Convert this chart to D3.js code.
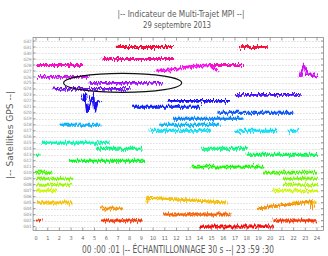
<!DOCTYPE html>
<html><head><meta charset="utf-8">
<script src="https://cdnjs.cloudflare.com/ajax/libs/d3/7.8.5/d3.min.js"></script>
<style>
html,body{margin:0;padding:0;background:#fff;}
svg{display:block;}
</style></head>
<body>
<svg id="c" width="328" height="256"></svg>
<script>
// ---- data ----
const titleLines = ["|-- Indicateur de Multi-Trajet MPI --|", "29 septembre 2013"];
const yTitle = "|-- Satellites GPS --|";
const xTitle = "00 :00 :01 |-- ÉCHANTILLONNAGE  30 s --| 23 :59 :30";
const hourTicks = [0,1,2,3,4,5,6,7,8,9,10,11,12,13,14,15,16,17,18,19,20,21,22,23,24];
const satellites = ["G32","G31","G30","G29","G28","G27","G26","G25","G24","G23","G22","G21","G20","G19","G18","G17",
                    "G16","G15","G14","G13","G12","G11","G10","G09","G08","G07","G06","G05","G04","G03","G02","G01"];
const satNumbers = [32,31,30,29,28,27,26,25,24,23,22,21,20,19,18,17,16,15,14,13,12,11,10,9,8,7,6,5,4,3,2,1];
// visible passes: satellite, start hour, end hour
const passSat   = ["G31","G31","G29","G28","G28","G27","G26","G26","G25","G24","G23","G22","G22","G21","G20","G19","G18","G18","G17","G17","G17",
                   "G15","G14","G14","G13","G13","G12","G11","G10","G10","G09","G09","G08","G08","G07","G07",
                   "G05","G05","G05","G04","G04","G03","G02","G02","G02","G01"];
const passStart = [6.9,17.4,5.7,0.1,14.8,10.3,0.1,22.6,4.5,1.5,17.0,4.0,11.3,8.3,15.5,11.7,2.1,10.6,9.7,17.0,21.5,
                   0.5,5.2,14.2,0.0,18.0,2.9,13.3,0.0,19.4,0.0,21.1,0.0,21.1,0.0,20.2,
                   0.0,9.5,21.9,5.5,18.9,10.9,0.1,5.7,20.2,14.0];
const passEnd   = [11.7,19.8,11.7,4.0,17.6,15.5,4.5,24.0,10.8,8.0,22.6,5.4,16.4,14.0,21.9,17.7,5.5,15.7,14.9,20.6,22.4,
                   6.3,9.1,18.0,0.3,24.0,9.3,19.4,1.4,24.0,3.1,24.0,3.0,24.0,1.7,24.0,
                   3.1,16.3,24.0,7.4,23.7,16.6,0.5,9.1,24.0,20.2];
// strong bursts: satellite, hour, offset in rows (negative = up)
const burstSat  = ["G22","G22","G22","G22","G22","G22","G26","G26","G26","G05","G04","G27"];
const burstHour = [4.2,4.35,4.6,4.9,5.05,5.2,22.75,22.9,23.1,9.6,23.5,14.8];
const burstOff  = [-1.2,1.8,0.4,-0.9,1.9,0.3,-1.5,-2.0,-0.6,-0.8,-1.2,-1.0];
const ellipseCenter = [7.4, "G25"];

// ---- chart ----
const svg = d3.select("#c");
const W = 328, H = 256;
const x = d3.scaleLinear().domain([0,24]).range([36,317]);
const y = d3.scalePoint().domain(satellites).range([41,226.5]);
const step = y.step();
const hueOf = d3.scaleLinear().domain([1,32]).range([0,360]);
const colorOf = s => d3.hsl(hueOf(satNumbers[satellites.indexOf(s)]) % 360, 0.92, 0.5).formatHex();

const defs = svg.append("defs");
function makeFilter(id, seed, scale){
  const f = defs.append("filter").attr("id",id).attr("filterUnits","userSpaceOnUse")
    .attr("x",0).attr("y",0).attr("width",W).attr("height",H);
  f.append("feTurbulence").attr("type","fractalNoise").attr("baseFrequency","0.75 0.05")
    .attr("numOctaves",2).attr("seed",seed).attr("result","n");
  f.append("feDisplacementMap").attr("in","SourceGraphic").attr("in2","n").attr("scale",scale)
    .attr("xChannelSelector","R").attr("yChannelSelector","G");
}
makeFilter("jitA",4,8);
makeFilter("jitB",11,6);

const font = "'DejaVu Sans Condensed','Liberation Sans Narrow',sans-serif";
const pLeft = x(-0.25), pRight = x(24.55), pTop = 37.5, pBottom = 230.5;

// grid lines
svg.append("g").selectAll("line").data(satellites).join("line")
  .attr("x1",pLeft).attr("x2",pRight).attr("y1",d=>Math.round(y(d))+0.5).attr("y2",d=>Math.round(y(d))+0.5)
  .attr("stroke","#c8c8c8").attr("stroke-width",0.6).attr("stroke-dasharray","1.5,1.5");

// frame
svg.append("rect").attr("x",pLeft).attr("y",pTop).attr("width",pRight-pLeft).attr("height",pBottom-pTop)
  .attr("fill","none").attr("stroke","#8a8a8a").attr("stroke-width",0.8);

// ticks
const tk = svg.append("g").attr("stroke","#777").attr("stroke-width",0.7);
hourTicks.forEach(h=>{
  tk.append("line").attr("x1",x(h)).attr("x2",x(h)).attr("y1",pBottom).attr("y2",pBottom-3);
  tk.append("line").attr("x1",x(h)).attr("x2",x(h)).attr("y1",pTop).attr("y2",pTop+3);
});
satellites.forEach(s=>{
  tk.append("line").attr("x1",pLeft).attr("x2",pLeft+2.5).attr("y1",y(s)).attr("y2",y(s));
  tk.append("line").attr("x1",pRight).attr("x2",pRight-2.5).attr("y1",y(s)).attr("y2",y(s));
});

// axis labels
svg.append("g").selectAll("text").data(hourTicks).join("text")
  .attr("x",d=>x(d)).attr("y",239.5).attr("text-anchor","middle")
  .attr("font-family",font).attr("font-size",5.5).attr("fill","#666").text(d=>d);
svg.append("g").selectAll("text").data(satellites).join("text")
  .attr("x",pLeft-1.5).attr("y",d=>y(d)+1.6).attr("text-anchor","end")
  .attr("font-family",font).attr("font-size",4.4).attr("fill","#888").text(d=>d);

// passes
const gA = svg.append("g").attr("filter","url(#jitA)");
const gB = svg.append("g").attr("filter","url(#jitB)");
passSat.forEach((s,i)=>{
  const pts = [[passStart[i],0]];
  burstSat.forEach((b,j)=>{ if(b===s && burstHour[j]>passStart[i] && burstHour[j]<passEnd[i]) pts.push([burstHour[j],burstOff[j]]); });
  pts.push([passEnd[i],0]);
  pts.sort((a,b)=>a[0]-b[0]);
  const line = d3.line().x(d=>x(d[0])).y(d=>y(s)+d[1]*step);
  [gA,gB].forEach(g=>g.append("path").attr("d",line(pts)).attr("fill","none")
    .attr("stroke",colorOf(s)).attr("stroke-width",1.9));
});

// ellipse
svg.append("ellipse").attr("cx",x(ellipseCenter[0])).attr("cy",y(ellipseCenter[1]))
  .attr("rx",59).attr("ry",9.5).attr("fill","none").attr("stroke","#111").attr("stroke-width",1.2);

// titles
svg.append("text").attr("x",181).attr("y",16.5).attr("text-anchor","middle")
  .attr("font-family",font).attr("font-size",9.5).attr("fill","#5a5a5a")
  .attr("textLength",127).attr("lengthAdjust","spacingAndGlyphs").text(titleLines[0]);
svg.append("text").attr("x",177).attr("y",28).attr("text-anchor","middle")
  .attr("font-family",font).attr("font-size",9.5).attr("fill","#5a5a5a")
  .attr("textLength",68).attr("lengthAdjust","spacingAndGlyphs").text(titleLines[1]);
svg.append("text").attr("x",178).attr("y",252.5).attr("text-anchor","middle")
  .attr("font-family",font).attr("font-size",10).attr("fill","#5a5a5a")
  .attr("textLength",192).attr("lengthAdjust","spacingAndGlyphs").text(xTitle);
svg.append("text").attr("transform","translate(13,135) rotate(-90)").attr("text-anchor","middle")
  .attr("font-family",font).attr("font-size",9.5).attr("fill","#5a5a5a")
  .attr("textLength",88).attr("lengthAdjust","spacingAndGlyphs").text(yTitle);
</script>
</body></html>
